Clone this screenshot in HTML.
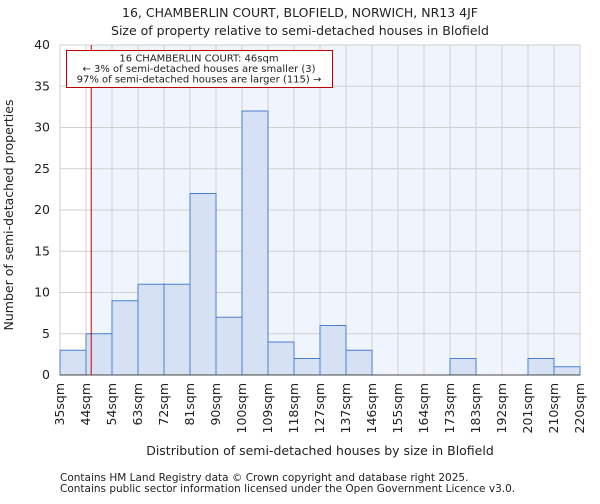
<!DOCTYPE html>
<html><head><meta charset="utf-8"><style>
body{margin:0;background:#fff;font-family:"DejaVu Sans","Liberation Sans",sans-serif;}
svg text{font-family:"DejaVu Sans","Liberation Sans",sans-serif;fill:#222;}
</style></head><body>
<svg id="chart" width="600" height="500" xmlns="http://www.w3.org/2000/svg">
<text x="300" y="17" text-anchor="middle" font-size="12.5">16, CHAMBERLIN COURT, BLOFIELD, NORWICH, NR13 4JF</text>
<text x="300" y="35" text-anchor="middle" font-size="12.5">Size of property relative to semi-detached houses in Blofield</text>
<g id="plot"></g>
<text x="320" y="455" text-anchor="middle" font-size="12.5">Distribution of semi-detached houses by size in Blofield</text>
<text transform="translate(13,215) rotate(-90)" text-anchor="middle" font-size="12.5">Number of semi-detached properties</text>
<text x="60" y="481" font-size="10.5" fill="#555">Contains HM Land Registry data © Crown copyright and database right 2025.</text>
<text x="60" y="492" font-size="10.5" fill="#555">Contains public sector information licensed under the Open Government Licence v3.0.</text>
</svg>
<script>
const binLabels=["35sqm","44sqm","54sqm","63sqm","72sqm","81sqm","90sqm","100sqm","109sqm","118sqm","127sqm","137sqm","146sqm","155sqm","164sqm","173sqm","183sqm","192sqm","201sqm","210sqm","220sqm"];
const counts=[3,5,9,11,11,22,7,32,4,2,6,3,0,0,0,2,0,0,2,1];
const yTicks=[0,5,10,15,20,25,30,35,40];
const binEdges=[35,44,54,63,72,81,90,100,109,118,127,137,146,155,164,173,183,192,201,210,220];
const subjectSize=46;
const NS="http://www.w3.org/2000/svg";
const L=60,R=580,T=45,B=375,yMax=40;
const g=document.getElementById('plot');
const nb=counts.length,bw=(R-L)/nb;
const xi=i=>L+i*bw;
const y=v=>B-(v/yMax)*(B-T);
function el(t,a){const e=document.createElementNS(NS,t);for(const k in a)e.setAttribute(k,a[k]);g.appendChild(e);return e;}
function xVal(v){for(let i=0;i<binEdges.length-1;i++){if(v<=binEdges[i+1])return xi(i)+(v-binEdges[i])/(binEdges[i+1]-binEdges[i])*bw;}return R;}
const sx=xVal(subjectSize);
let bg=el('rect',{x:sx,y:T,width:R-sx,height:B-T,fill:'#f0f4fc'});


for(let i=0;i<=nb;i++){const l=el('line',{x1:xi(i),x2:xi(i),y1:T,y2:B,stroke:'#d0d0d0','stroke-width':1});

}
yTicks.forEach(v=>{const l=el('line',{x1:L,x2:R,y1:y(v),y2:y(v),stroke:'#d0d0d0','stroke-width':1});


const t=el('text',{x:L-10,y:y(v)+4,'text-anchor':'end','font-size':12.5});t.textContent=v;

});
counts.forEach((c,i)=>{if(c<=0)return;const r=el('rect',{x:xi(i),y:y(c),width:bw,height:B-y(c),fill:'#d6e2f4',stroke:'#4a7fcf','stroke-width':1});

});
binLabels.forEach((s,i)=>{const t=el('text',{'text-anchor':'end','font-size':12.5,transform:`translate(${xi(i)+4},${B+8}) rotate(-90)`});t.textContent=s;

});
let ax=el('line',{x1:L,x2:R,y1:B,y2:B,stroke:'#444'});


let ml=el('line',{x1:sx,x2:sx,y1:T,y2:B,stroke:'#c00000','stroke-width':1});


let box=el('rect',{x:66.5,y:50.5,width:266,height:37,fill:'#fff',stroke:'#c00000','stroke-width':1});


["16 CHAMBERLIN COURT: 46sqm","← 3% of semi-detached houses are smaller (3)","97% of semi-detached houses are larger (115) →"].forEach((s,i)=>{const t=el('text',{x:199,y:61.5+i*10.5,'text-anchor':'middle','font-size':10});t.textContent=s;

});
</script>
</body></html>
